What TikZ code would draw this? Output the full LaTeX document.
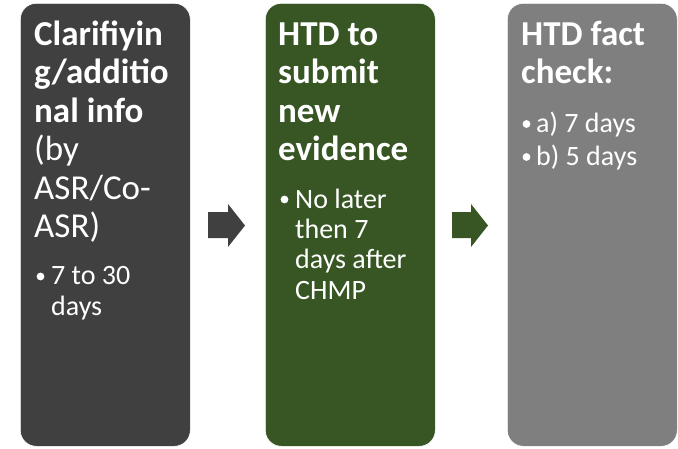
\documentclass[tikz,border=0pt]{standalone}
\usepackage{fontspec}
\setmainfont{Carlito}
\definecolor{stagedark}{HTML}{404040}
\definecolor{stagegreen}{HTML}{375623}
\definecolor{stagegrey}{HTML}{7F7F7F}
\begin{document}
\begin{tikzpicture}[x=1pt,y=-1pt,
  stage/.style={rounded corners=16pt, anchor=north west, inner sep=0pt,
    minimum width=170pt, minimum height=443pt, draw=white, line width=0.6pt},
  % multi-line texts are placed by the baseline of their last line
  heading/.style={anchor=base west, inner sep=0pt, text=white, align=left,
    font=\fontsize{35}{38.5}\selectfont},
  itemtext/.style={anchor=base west, inner sep=0pt, text=white, align=left,
    font=\fontsize{28}{30.3}\selectfont},
  itemdot/.style={circle, fill=white, inner sep=0pt, minimum size=7.8pt},
]
\useasboundingbox (0,0) rectangle (678,448);

% three stage panels
\node[stage, fill=stagedark]  (s1) at (20,3)  {};
\node[stage, fill=stagegreen] (s2) at (265,3) {};
\node[stage, fill=stagegrey]  (s3) at (507,3) {};

% block arrows between the panels
\fill[stagedark]  (208,212) -- (228,212) -- (228,204) -- (245,225.5)
  -- (228,247) -- (228,238) -- (208,238) -- cycle;
\fill[stagegreen] (452,212) -- (471,212) -- (471,204) -- (488,225.5)
  -- (471,247) -- (471,238) -- (452,238) -- cycle;

% panel 1
\node[heading] (t1) at (34,237.5) {\textbf{Clarifiyin}\\\textbf{g/additio}\\\textbf{nal info}\\(by\\ASR/Co-\\ASR)};
\node[itemdot] (d1) at (40.5,276.5) {};
\node[itemtext] (i1) at (51,315) {7 to 30\\days};

% panel 2
\node[heading, font=\fontsize{35}{38.5}\selectfont\bfseries] (t2) at (278,160.5) {HTD to\\submit\\new\\evidence};
\node[itemdot] (d2) at (284.5,199.5) {};
\node[itemtext] (i2) at (295,299) {No later\\then 7\\days after\\CHMP};

% panel 3
\node[heading, font=\fontsize{35}{38.5}\selectfont\bfseries] (t3) at (521,83.5) {HTD fact\\check:};
\node[itemdot] (d3a) at (526.5,124) {};
\node[itemtext] (i3a) at (536,132) {a) 7 days};
\node[itemdot] (d3b) at (526.5,157) {};
\node[itemtext] (i3b) at (536,165) {b) 5 days};
\end{tikzpicture}
\end{document}
